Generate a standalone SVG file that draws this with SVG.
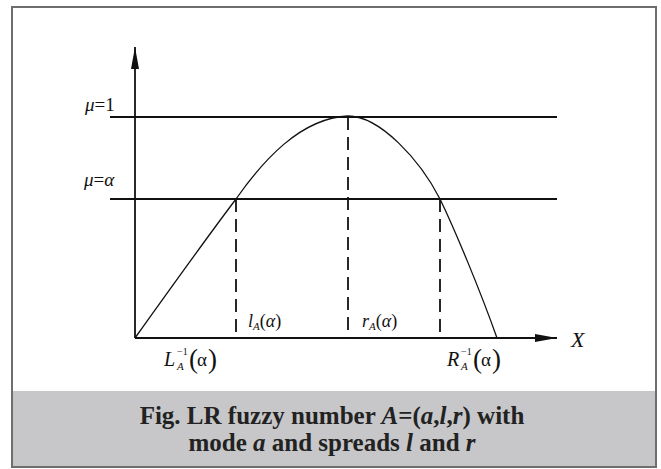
<svg xmlns="http://www.w3.org/2000/svg" width="661" height="469" viewBox="0 0 661 469">
<style>
.frame{fill:#ffffff;stroke:#6e6e6e;stroke-width:2}
.cap{fill:#c7c7c9}
.ln{stroke:#111;stroke-width:1.8;fill:none}
.dash{stroke:#111;stroke-width:1.8;fill:none;stroke-dasharray:13 7}
.curve{stroke:#111;stroke-width:1.3;fill:none}
.t{font-family:"Liberation Serif",serif;fill:#111}
.i{font-style:italic}
.captxt{font-family:"Liberation Serif",serif;font-weight:bold;font-size:25px;fill:#222;text-anchor:middle}
</style>
<defs>
<marker id="ah" viewBox="0 0 22 8" refX="22" refY="4" markerWidth="22" markerHeight="8" markerUnits="userSpaceOnUse" orient="auto">
<path d="M0,0 L22,4 L0,8 Z" fill="#111"/>
</marker>
</defs>
<rect class="frame" x="12" y="7" width="644" height="460"/>
<rect class="cap" x="13" y="391" width="642" height="75"/>
<g id="connectors">
<line class="ln" x1="135" y1="338" x2="135" y2="47" marker-end="url(#ah)"/>
<line class="ln" x1="135" y1="338" x2="557" y2="338" marker-end="url(#ah)"/>
<line class="ln" x1="110" y1="117" x2="557" y2="117"/>
<line class="ln" x1="110" y1="199" x2="557" y2="199"/>
<line class="dash" x1="236" y1="199" x2="236" y2="338"/>
<line class="dash" x1="348" y1="117" x2="348" y2="338"/>
<line class="dash" x1="440" y1="199" x2="440" y2="338"/>
<path class="curve" d="M135,338 C165,296 205,240 236,199 C262,162 300,118 348,116 C380,116 420,160 440,199 C455,230 480,290 497,338"/>
</g>
<g id="label-mu1"><text class="t" x="85" y="111" font-size="19"><tspan class="i">μ</tspan>=1</text></g>
<g id="label-mualpha"><text class="t" x="84" y="186" font-size="19"><tspan class="i">μ</tspan>=<tspan class="i">α</tspan></text></g>
<g id="label-lA"><text class="t" x="248" y="327" font-size="18"><tspan class="i">l</tspan><tspan class="i" font-size="11" dy="3">A</tspan><tspan dy="-3">(</tspan><tspan class="i">α</tspan>)</text></g>
<g id="label-rA"><text class="t" x="362" y="327" font-size="18"><tspan class="i">r</tspan><tspan class="i" font-size="11" dy="3">A</tspan><tspan dy="-3">(</tspan><tspan class="i">α</tspan>)</text></g>
<g id="label-L">
<text class="t i" x="164" y="366" font-size="20">L</text>
<text class="t" x="177" y="355" font-size="10">−1</text>
<text class="t i" x="177" y="370" font-size="11">A</text>
<text class="t" x="189" y="368" font-size="27">(</text>
<text class="t" x="197" y="366" font-size="19">α</text>
<text class="t" x="208" y="368" font-size="27">)</text>
</g>
<g id="label-R">
<text class="t i" x="447" y="366" font-size="20">R</text>
<text class="t" x="461" y="355" font-size="10">−1</text>
<text class="t i" x="461" y="370" font-size="11">A</text>
<text class="t" x="473" y="368" font-size="27">(</text>
<text class="t" x="481" y="366" font-size="19">α</text>
<text class="t" x="492" y="368" font-size="27">)</text>
</g>
<g id="label-X"><text class="t i" x="571" y="347" font-size="22">X</text></g>
<g id="caption">
<text class="captxt" x="332" y="424">Fig. LR fuzzy number <tspan class="i">A</tspan>=(<tspan class="i">a</tspan>,<tspan class="i">l</tspan>,<tspan class="i">r</tspan>) with</text>
<text class="captxt" x="332" y="451">mode <tspan class="i">a</tspan> and spreads <tspan class="i">l</tspan> and <tspan class="i">r</tspan></text>
</g>
</svg>
